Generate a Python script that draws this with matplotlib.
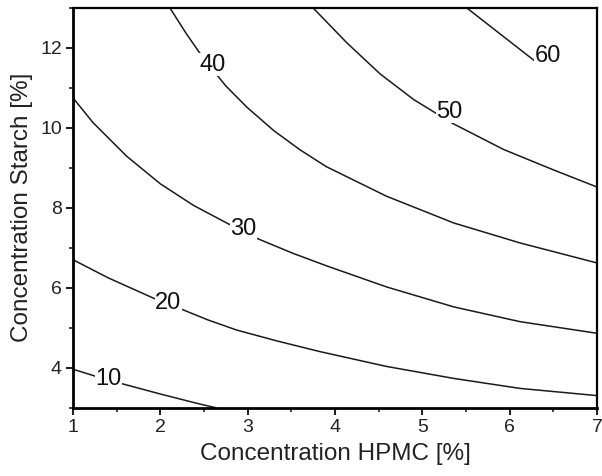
import matplotlib
matplotlib.use("Agg")
import matplotlib.pyplot as plt
from matplotlib.ticker import MultipleLocator

plt.rcParams['font.family'] = ['Liberation Sans', 'DejaVu Sans']

# Contour lines (HPMC %, Starch %)
levels = [10, 20, 30, 40, 50, 60]

c10_x = [1.00, 1.25, 1.54, 2.00, 2.45, 2.63]
c10_y = [3.96, 3.79, 3.61, 3.34, 3.09, 3.00]

c20_x = [1.00, 1.40, 1.92, 2.245, 2.55, 2.875, 3.35, 3.83, 4.59, 5.36, 6.12, 7.00]
c20_y = [6.70, 6.25, 5.74, 5.46, 5.19, 4.94, 4.66, 4.40, 4.03, 3.73, 3.48, 3.30]

c30_x = [1.00, 1.23, 1.615, 2.00, 2.38, 2.76, 3.10, 3.52, 3.90, 4.59, 5.36, 6.12, 7.00]
c30_y = [10.75, 10.13, 9.29, 8.60, 8.06, 7.62, 7.24, 6.86, 6.55, 6.02, 5.52, 5.15, 4.86]

c40_x = [2.11, 2.30, 2.50, 2.75, 2.99, 3.30, 3.60, 3.90, 4.59, 5.36, 6.12, 7.00]
c40_y = [13.0, 12.35, 11.72, 11.05, 10.52, 9.93, 9.45, 9.03, 8.29, 7.62, 7.12, 6.62]

c50_x = [3.75, 4.135, 4.517, 4.90, 5.34, 5.93, 6.50, 7.00]
c50_y = [13.0, 12.13, 11.35, 10.71, 10.12, 9.46, 8.95, 8.52]

c60_x = [5.51, 5.85, 6.12, 6.29, 6.44]
c60_y = [13.0, 12.42, 11.96, 11.67, 11.81]

# label positions (x, y)
label_x = [1.405, 2.09, 2.95, 2.60, 5.31, 6.44]
label_y = [3.71, 5.62, 7.47, 11.58, 10.40, 11.81]

lines = [(c10_x, c10_y), (c20_x, c20_y), (c30_x, c30_y),
         (c40_x, c40_y), (c50_x, c50_y), (c60_x, c60_y)]

fig = plt.figure(figsize=(6.02, 4.76), dpi=100)
ax = fig.add_axes([73/602, 1-407.6/476, (597-73)/602, (407.6-8)/476])

for (xs, ys) in lines:
    ax.plot(xs, ys, color='#1a1a1a', lw=1.1, zorder=2, clip_on=True)

for lv, lx, ly in zip(levels, label_x, label_y):
    ax.text(lx, ly, str(lv), fontsize=17, ha='center', va='center',
            color='#111111', zorder=3,
            bbox=dict(facecolor='white', edgecolor='none', pad=0.3))

ax.set_xlim(1, 7)
ax.set_ylim(3, 13)
ax.xaxis.set_major_locator(MultipleLocator(1))
ax.xaxis.set_minor_locator(MultipleLocator(0.5))
ax.yaxis.set_major_locator(MultipleLocator(2))
ax.yaxis.set_minor_locator(MultipleLocator(1))
ax.set_yticks([4, 6, 8, 10, 12])

ax.tick_params(which='major', direction='out', length=5, width=1.5,
               labelsize=14, pad=3, top=False, right=False, color='#222222',
               labelcolor='#222222')
ax.tick_params(which='minor', direction='out', length=3, width=1.2,
               top=False, right=False, color='#222222')

for side in ['left', 'bottom']:
    ax.spines[side].set_linewidth(2.0)
for side in ['top', 'right']:
    ax.spines[side].set_linewidth(1.6)

ax.set_xlabel('Concentration HPMC [%]', fontsize=17.5, labelpad=5, color='#222222')
ax.set_ylabel('Concentration Starch [%]', fontsize=17.5, labelpad=5, color='#222222')

fig.savefig('out.png', dpi=100, facecolor='white')
